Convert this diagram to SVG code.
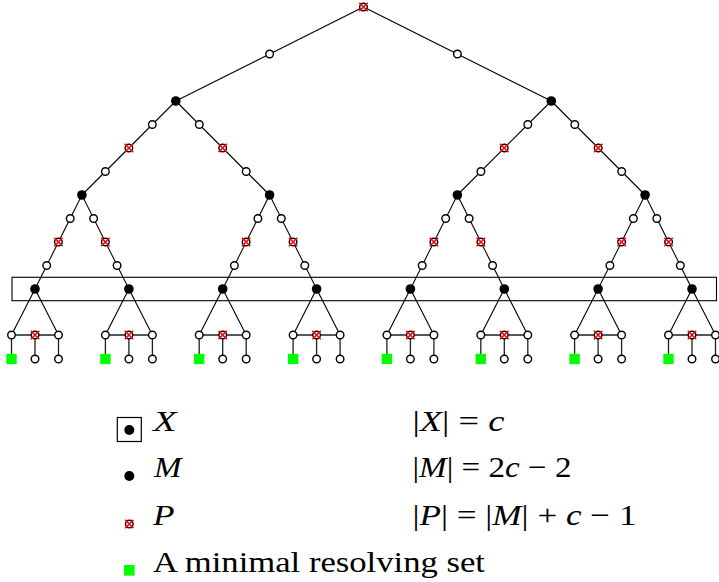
<svg xmlns="http://www.w3.org/2000/svg" xmlns:xlink="http://www.w3.org/1999/xlink" width="719" height="582" viewBox="0 0 719 582">
<style>
.e{stroke:#000;stroke-width:1.1;fill:none}
.b{stroke:#222;stroke-width:1.3;fill:none}
.t{font-family:"Liberation Serif","DejaVu Serif",serif;font-size:30px;fill:#000}
.i{font-style:italic}
</style>
<defs>
<circle id="o" r="3.8" fill="#fff" stroke="#000" stroke-width="1.4"/>
<circle id="m" r="4.8" fill="#000"/>
<g id="p"><circle r="3.8" fill="#fff" stroke="#000" stroke-width="1.4"/><path d="M-4.2,-4.2L4.2,4.2M-4.2,4.2L4.2,-4.2" stroke="#f00" stroke-width="1.6"/></g>
<rect id="s" x="-5.2" y="-5.2" width="10.4" height="10.4" fill="#00ff00"/>
</defs>
<rect id="X-box" x="12" y="277.3" width="704.5" height="23.4" fill="none" stroke="#000" stroke-width="1.1"/>
<g id="connectors">
<line class="e" x1="363.5" y1="7" x2="175.8" y2="101"/>
<line class="e" x1="363.5" y1="7" x2="551.3" y2="101"/>
<line class="e" x1="175.8" y1="101" x2="81.9" y2="195"/>
<line class="e" x1="175.8" y1="101" x2="269.6" y2="195"/>
<line class="e" x1="551.3" y1="101" x2="457.4" y2="195"/>
<line class="e" x1="551.3" y1="101" x2="645.1" y2="195"/>
<line class="e" x1="81.9" y1="195" x2="35" y2="289"/>
<line class="e" x1="81.9" y1="195" x2="128.9" y2="289"/>
<line class="e" x1="269.6" y1="195" x2="222.7" y2="289"/>
<line class="e" x1="269.6" y1="195" x2="316.6" y2="289"/>
<line class="e" x1="457.4" y1="195" x2="410.4" y2="289"/>
<line class="e" x1="457.4" y1="195" x2="504.3" y2="289"/>
<line class="e" x1="645.1" y1="195" x2="598.1" y2="289"/>
<line class="e" x1="645.1" y1="195" x2="692" y2="289"/>
<path class="e" d="M11.5,335L35,289L58.5,335M105.4,335L128.9,289L152.4,335M199.2,335L222.7,289L246.2,335M293.1,335L316.6,289L340.1,335M386.9,335L410.4,289L433.9,335M480.8,335L504.3,289L527.8,335M574.6,335L598.1,289L621.6,335M668.5,335L692,289L715.5,335"/>
<path class="b" d="M11.5,335H58.5M105.4,335H152.4M199.2,335H246.2M293.1,335H340.1M386.9,335H433.9M480.8,335H527.8M574.6,335H621.6M668.5,335H715.5"/>
<path class="b" d="M11.5,335V359M35,335V359M58.5,335V359M105.4,335V359M128.9,335V359M152.4,335V359M199.2,335V359M222.7,335V359M246.2,335V359M293.1,335V359M316.6,335V359M340.1,335V359M386.9,335V359M410.4,335V359M433.9,335V359M480.8,335V359M504.3,335V359M527.8,335V359M574.6,335V359M598.1,335V359M621.6,335V359M668.5,335V359M692,335V359M715.5,335V359"/>
</g>
<g id="nodes">
<g id="root"><use xlink:href="#p" x="363.5" y="7"/></g>
<g id="a1"><use xlink:href="#o" x="269.6" y="54"/></g>
<g id="a2"><use xlink:href="#o" x="457.4" y="54"/></g>
<g id="M1"><use xlink:href="#m" x="175.8" y="101"/></g>
<g id="M2"><use xlink:href="#m" x="551.3" y="101"/></g>
<g id="c1a"><use xlink:href="#o" x="152.3" y="124.5"/></g>
<g id="c1b"><use xlink:href="#p" x="128.9" y="148"/></g>
<g id="c1c"><use xlink:href="#o" x="105.4" y="171.5"/></g>
<g id="c2a"><use xlink:href="#o" x="199.3" y="124.5"/></g>
<g id="c2b"><use xlink:href="#p" x="222.7" y="148"/></g>
<g id="c2c"><use xlink:href="#o" x="246.2" y="171.5"/></g>
<g id="c3a"><use xlink:href="#o" x="527.8" y="124.5"/></g>
<g id="c3b"><use xlink:href="#p" x="504.3" y="148"/></g>
<g id="c3c"><use xlink:href="#o" x="480.9" y="171.5"/></g>
<g id="c4a"><use xlink:href="#o" x="574.8" y="124.5"/></g>
<g id="c4b"><use xlink:href="#p" x="598.2" y="148"/></g>
<g id="c4c"><use xlink:href="#o" x="621.7" y="171.5"/></g>
<g id="M21"><use xlink:href="#m" x="81.9" y="195"/></g>
<g id="M22"><use xlink:href="#m" x="269.6" y="195"/></g>
<g id="M23"><use xlink:href="#m" x="457.4" y="195"/></g>
<g id="M24"><use xlink:href="#m" x="645.1" y="195"/></g>
<g id="d1a"><use xlink:href="#o" x="70.2" y="218.5"/></g>
<g id="d1b"><use xlink:href="#p" x="58.4" y="242"/></g>
<g id="d1c"><use xlink:href="#o" x="46.7" y="265.5"/></g>
<g id="d2a"><use xlink:href="#o" x="93.6" y="218.5"/></g>
<g id="d2b"><use xlink:href="#p" x="105.4" y="242"/></g>
<g id="d2c"><use xlink:href="#o" x="117.1" y="265.5"/></g>
<g id="d3a"><use xlink:href="#o" x="257.9" y="218.5"/></g>
<g id="d3b"><use xlink:href="#p" x="246.1" y="242"/></g>
<g id="d3c"><use xlink:href="#o" x="234.4" y="265.5"/></g>
<g id="d4a"><use xlink:href="#o" x="281.3" y="218.5"/></g>
<g id="d4b"><use xlink:href="#p" x="293.1" y="242"/></g>
<g id="d4c"><use xlink:href="#o" x="304.8" y="265.5"/></g>
<g id="d5a"><use xlink:href="#o" x="445.7" y="218.5"/></g>
<g id="d5b"><use xlink:href="#p" x="433.9" y="242"/></g>
<g id="d5c"><use xlink:href="#o" x="422.2" y="265.5"/></g>
<g id="d6a"><use xlink:href="#o" x="469.1" y="218.5"/></g>
<g id="d6b"><use xlink:href="#p" x="480.9" y="242"/></g>
<g id="d6c"><use xlink:href="#o" x="492.6" y="265.5"/></g>
<g id="d7a"><use xlink:href="#o" x="633.4" y="218.5"/></g>
<g id="d7b"><use xlink:href="#p" x="621.6" y="242"/></g>
<g id="d7c"><use xlink:href="#o" x="609.9" y="265.5"/></g>
<g id="d8a"><use xlink:href="#o" x="656.8" y="218.5"/></g>
<g id="d8b"><use xlink:href="#p" x="668.6" y="242"/></g>
<g id="d8c"><use xlink:href="#o" x="680.3" y="265.5"/></g>
<g id="M31"><use xlink:href="#m" x="35" y="289"/></g>
<g id="M32"><use xlink:href="#m" x="128.9" y="289"/></g>
<g id="M33"><use xlink:href="#m" x="222.7" y="289"/></g>
<g id="M34"><use xlink:href="#m" x="316.6" y="289"/></g>
<g id="M35"><use xlink:href="#m" x="410.4" y="289"/></g>
<g id="M36"><use xlink:href="#m" x="504.3" y="289"/></g>
<g id="M37"><use xlink:href="#m" x="598.1" y="289"/></g>
<g id="M38"><use xlink:href="#m" x="692" y="289"/></g>
<g id="b1l"><use xlink:href="#o" x="11.5" y="335"/></g><g id="b1p"><use xlink:href="#p" x="35" y="335"/></g><g id="b1r"><use xlink:href="#o" x="58.5" y="335"/></g>
<g id="b1s"><use xlink:href="#s" x="11.5" y="359"/></g><g id="b1m"><use xlink:href="#o" x="35" y="359"/></g><g id="b1q"><use xlink:href="#o" x="58.5" y="359"/></g>
<g id="b2l"><use xlink:href="#o" x="105.4" y="335"/></g><g id="b2p"><use xlink:href="#p" x="128.9" y="335"/></g><g id="b2r"><use xlink:href="#o" x="152.4" y="335"/></g>
<g id="b2s"><use xlink:href="#s" x="105.4" y="359"/></g><g id="b2m"><use xlink:href="#o" x="128.9" y="359"/></g><g id="b2q"><use xlink:href="#o" x="152.4" y="359"/></g>
<g id="b3l"><use xlink:href="#o" x="199.2" y="335"/></g><g id="b3p"><use xlink:href="#p" x="222.7" y="335"/></g><g id="b3r"><use xlink:href="#o" x="246.2" y="335"/></g>
<g id="b3s"><use xlink:href="#s" x="199.2" y="359"/></g><g id="b3m"><use xlink:href="#o" x="222.7" y="359"/></g><g id="b3q"><use xlink:href="#o" x="246.2" y="359"/></g>
<g id="b4l"><use xlink:href="#o" x="293.1" y="335"/></g><g id="b4p"><use xlink:href="#p" x="316.6" y="335"/></g><g id="b4r"><use xlink:href="#o" x="340.1" y="335"/></g>
<g id="b4s"><use xlink:href="#s" x="293.1" y="359"/></g><g id="b4m"><use xlink:href="#o" x="316.6" y="359"/></g><g id="b4q"><use xlink:href="#o" x="340.1" y="359"/></g>
<g id="b5l"><use xlink:href="#o" x="386.9" y="335"/></g><g id="b5p"><use xlink:href="#p" x="410.4" y="335"/></g><g id="b5r"><use xlink:href="#o" x="433.9" y="335"/></g>
<g id="b5s"><use xlink:href="#s" x="386.9" y="359"/></g><g id="b5m"><use xlink:href="#o" x="410.4" y="359"/></g><g id="b5q"><use xlink:href="#o" x="433.9" y="359"/></g>
<g id="b6l"><use xlink:href="#o" x="480.8" y="335"/></g><g id="b6p"><use xlink:href="#p" x="504.3" y="335"/></g><g id="b6r"><use xlink:href="#o" x="527.8" y="335"/></g>
<g id="b6s"><use xlink:href="#s" x="480.8" y="359"/></g><g id="b6m"><use xlink:href="#o" x="504.3" y="359"/></g><g id="b6q"><use xlink:href="#o" x="527.8" y="359"/></g>
<g id="b7l"><use xlink:href="#o" x="574.6" y="335"/></g><g id="b7p"><use xlink:href="#p" x="598.1" y="335"/></g><g id="b7r"><use xlink:href="#o" x="621.6" y="335"/></g>
<g id="b7s"><use xlink:href="#s" x="574.6" y="359"/></g><g id="b7m"><use xlink:href="#o" x="598.1" y="359"/></g><g id="b7q"><use xlink:href="#o" x="621.6" y="359"/></g>
<g id="b8l"><use xlink:href="#o" x="668.5" y="335"/></g><g id="b8p"><use xlink:href="#p" x="692" y="335"/></g><g id="b8r"><use xlink:href="#o" x="715.5" y="335"/></g>
<g id="b8s"><use xlink:href="#s" x="668.5" y="359"/></g><g id="b8m"><use xlink:href="#o" x="692" y="359"/></g><g id="b8q"><use xlink:href="#o" x="715.5" y="359"/></g>
</g>
<g id="legend">
<g id="leg-X">
<rect x="117.3" y="417.5" width="24" height="24" fill="none" stroke="#000" stroke-width="1.2"/>
<circle cx="129.3" cy="430" r="5" fill="#000"/>
<text class="t i" x="153" y="431" textLength="23.5" lengthAdjust="spacingAndGlyphs">X</text>
<text class="t" x="412.5" y="431" textLength="92" lengthAdjust="spacingAndGlyphs">|<tspan class="i">X</tspan>| = <tspan class="i">c</tspan></text>
</g>
<g id="leg-M">
<circle cx="129.3" cy="476" r="5" fill="#000"/>
<text class="t i" x="154" y="477" textLength="27.5" lengthAdjust="spacingAndGlyphs">M</text>
<text class="t" x="412.5" y="477" textLength="159" lengthAdjust="spacingAndGlyphs">|<tspan class="i">M</tspan>| = 2<tspan class="i">c</tspan> − 2</text>
</g>
<g id="leg-P">
<use xlink:href="#p" x="129.3" y="524"/>
<text class="t i" x="153" y="525" textLength="21.5" lengthAdjust="spacingAndGlyphs">P</text>
<text class="t" x="412.5" y="525" textLength="224" lengthAdjust="spacingAndGlyphs">|<tspan class="i">P</tspan>| = |<tspan class="i">M</tspan>| + <tspan class="i">c</tspan> − 1</text>
</g>
<g id="leg-S">
<rect x="124" y="565" width="10.6" height="10.6" fill="#00ff00"/>
<text class="t" x="153" y="572" textLength="332" lengthAdjust="spacingAndGlyphs">A minimal resolving set</text>
</g>
</g>
</svg>
